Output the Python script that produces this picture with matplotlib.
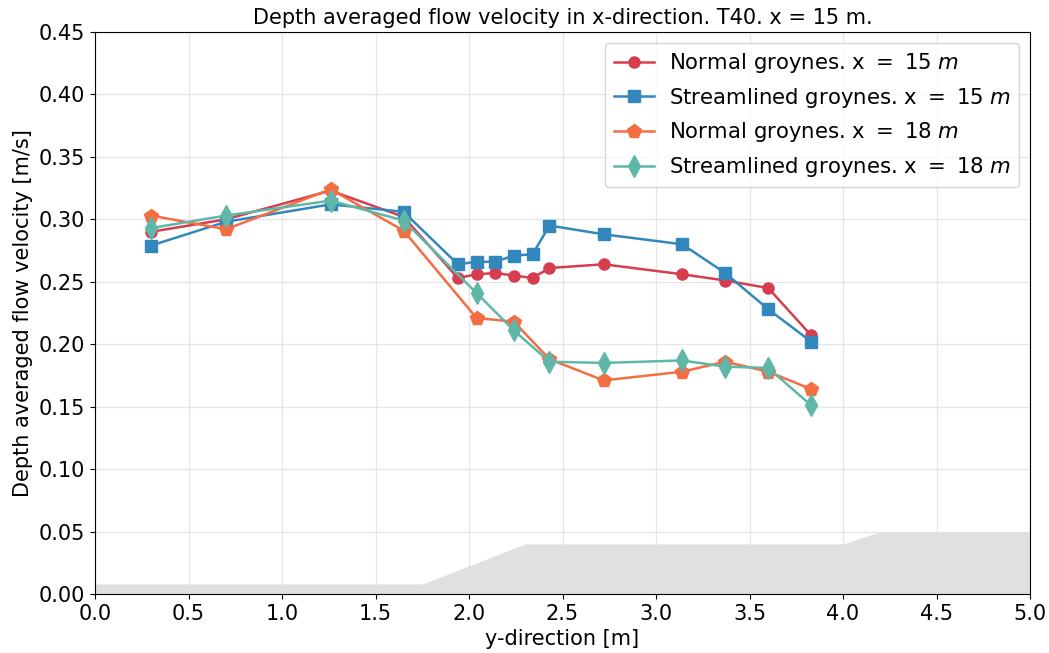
import numpy as np
import matplotlib.pyplot as plt

# data
y_all = [0.30, 0.70, 1.26, 1.65, 1.94, 2.04, 2.14, 2.24, 2.34, 2.43, 2.72, 3.14, 3.37, 3.60, 3.83]
normal_15 = [0.290, 0.300, 0.323, 0.302, 0.253, 0.256, 0.257, 0.255, 0.253, 0.261, 0.264, 0.256, 0.251, 0.245, 0.207]
stream_15 = [0.279, 0.298, 0.312, 0.306, 0.264, 0.266, 0.266, 0.271, 0.272, 0.295, 0.288, 0.280, 0.257, 0.228, 0.202]

y_18 = [0.30, 0.70, 1.26, 1.65, 2.04, 2.24, 2.43, 2.72, 3.14, 3.37, 3.60, 3.83]
normal_18 = [0.303, 0.292, 0.324, 0.291, 0.221, 0.218, 0.188, 0.171, 0.178, 0.186, 0.178, 0.164]
stream_18 = [0.293, 0.303, 0.315, 0.299, 0.241, 0.211, 0.186, 0.185, 0.187, 0.182, 0.181, 0.151]

# bed profile (grey)
bed_y = [0.0, 1.75, 2.30, 4.00, 4.20, 5.00]
bed_z = [0.008, 0.008, 0.040, 0.040, 0.050, 0.050]

fig = plt.figure(figsize=(10.49, 6.53), dpi=100)
ax = fig.add_axes([0.0906, 0.0904, 0.8913, 0.8606])

ax.fill_between(bed_y, 0, bed_z, color='#e0e0e0', lw=0, zorder=1)

ax.plot(y_all, normal_15, '-o', color='#d53e4f', ms=8, lw=1.8, label='Normal groynes. x $=$ 15 $m$', zorder=3)
ax.plot(y_all, stream_15, '-s', color='#3288bd', ms=8, lw=1.8, label='Streamlined groynes. x $=$ 15 $m$', zorder=3)
ax.plot(y_18, normal_18, '-p', color='#f46d43', ms=10, lw=1.8, label='Normal groynes. x $=$ 18 $m$', zorder=3)
ax.plot(y_18, stream_18, '-d', color='#5fb8a7', ms=11, lw=1.8, label='Streamlined groynes. x $=$ 18 $m$', zorder=3)

ax.set_xlim(0, 5)
ax.set_ylim(0, 0.45)
ax.set_xticks(np.arange(0, 5.01, 0.5))
ax.set_yticks(np.arange(0, 0.451, 0.05))
ax.yaxis.set_major_formatter(plt.FormatStrFormatter('%.2f'))
ax.xaxis.set_major_formatter(plt.FormatStrFormatter('%.1f'))
ax.tick_params(labelsize=15)
ax.grid(True, color='#e6e6e6', lw=1, zorder=0)
ax.set_axisbelow(True)

ax.set_xlabel('y-direction [m]', fontsize=15)
ax.set_ylabel('Depth averaged flow velocity [m/s]', fontsize=15)
ax.set_title('Depth averaged flow velocity in x-direction. T40. x = 15 m.', fontsize=15)
ax.legend(loc='upper right', fontsize=15.3, handlelength=1.9, handletextpad=0.7)

fig.savefig('out.png', dpi=100)
